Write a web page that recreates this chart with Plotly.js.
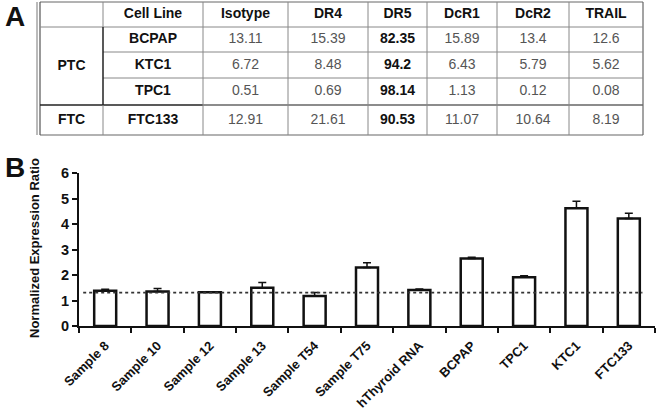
<!DOCTYPE html>
<html>
<head>
<meta charset="utf-8">
<script src="https://cdn.plot.ly/plotly-3.0.1.min.js"></script>
<style>html,body{margin:0;padding:0;background:#fff;}#chart{width:660px;height:412px;}</style>
</head>
<body>
<div id="chart"></div>
<script>
// ---------- Panel A: table data ----------
const tableHeader = ["Cell Line", "Isotype", "DR4", "DR5", "DcR1", "DcR2", "TRAIL"];
const groups = ["PTC", "FTC"];
const groupRows = [[0, 2], [3, 3]];
const cellLines = ["BCPAP", "KTC1", "TPC1", "FTC133"];
const isotype = [13.11, 6.72, 0.51, 12.91];
const dr4 = [15.39, 8.48, 0.69, 21.61];
const dr5 = [82.35, 94.2, 98.14, 90.53];
const dcr1 = [15.89, 6.43, 1.13, 11.07];
const dcr2 = [13.4, 5.79, 0.12, 10.64];
const trail = [12.6, 5.62, 0.08, 8.19];

// ---------- Panel B: bar data ----------
const samples = ["Sample 8", "Sample 10", "Sample 12", "Sample 13", "Sample T54", "Sample T75",
                 "hThyroid RNA", "BCPAP", "TPC1", "KTC1", "FTC133"];
const ratio = [1.38, 1.35, 1.32, 1.50, 1.18, 2.29, 1.41, 2.65, 1.91, 4.62, 4.22];
const ratioErr = [0.06, 0.12, 0.01, 0.21, 0.13, 0.19, 0.04, 0.05, 0.06, 0.27, 0.20];
const baseline = 1.31;

// ---------- table geometry (pixel grid on hidden axes) ----------
const colEdges = [40, 103, 203, 288, 368, 427, 497, 569, 643];
const rowEdges = [2, 27, 52, 78, 105, 135];
const mid = (a, i) => (a[i] + a[i + 1]) / 2;
const FONT = "Arial, 'Liberation Sans', sans-serif";

const traces = [];

// header
traces.push({
  type: "scatter", mode: "text", xaxis: "x2", yaxis: "y2", hoverinfo: "skip", showlegend: false,
  x: tableHeader.map((_, j) => mid(colEdges, j + 1)),
  y: tableHeader.map(() => mid(rowEdges, 0)),
  text: tableHeader,
  textfont: {family: FONT, size: 14, color: "#111", weight: "bold"}
});
// cell line names
traces.push({
  type: "scatter", mode: "text", xaxis: "x2", yaxis: "y2", hoverinfo: "skip", showlegend: false,
  x: cellLines.map(() => mid(colEdges, 1)),
  y: cellLines.map((_, i) => mid(rowEdges, i + 1)),
  text: cellLines,
  textfont: {family: FONT, size: 14, color: "#111", weight: "bold"}
});
// groups
traces.push({
  type: "scatter", mode: "text", xaxis: "x2", yaxis: "y2", hoverinfo: "skip", showlegend: false,
  x: groups.map(() => mid(colEdges, 0)),
  y: groupRows.map(r => (rowEdges[r[0] + 1] + rowEdges[r[1] + 2]) / 2),
  text: groups,
  textfont: {family: FONT, size: 14, color: "#111", weight: "bold"}
});
// numeric columns
const numCols = [isotype, dr4, dr5, dcr1, dcr2, trail];
numCols.forEach((col, k) => {
  const bold = (col === dr5);
  traces.push({
    type: "scatter", mode: "text", xaxis: "x2", yaxis: "y2", hoverinfo: "skip", showlegend: false,
    x: col.map(() => mid(colEdges, k + 2)),
    y: col.map((_, i) => mid(rowEdges, i + 1)),
    text: col.map(v => String(v)),
    textfont: {family: FONT, size: 14, color: bold ? "#111" : "#555", weight: bold ? "bold" : "normal"}
  });
});

// bars
traces.push({
  type: "bar", x: samples, y: ratio, width: 0.42, showlegend: false,
  marker: {color: "#ffffff", line: {color: "#111", width: 2.5}},
  error_y: {type: "data", array: ratioErr, arrayminus: ratio.map(() => 0), symmetric: false,
            color: "#111", thickness: 1.5, width: 4}
});

// table lines
const shapes = [];
const gray = "#888";
const L = (x0, y0, x1, y1, color, width) => shapes.push({
  type: "line", xref: "x2", yref: "y2", x0, y0, x1, y1, line: {color, width}
});
const xL = colEdges[0], xR = colEdges[colEdges.length - 1];
const yT = rowEdges[0], yB = rowEdges[rowEdges.length - 1];
// outer border
L(xL, yT, xR, yT, "#666", 1);
L(xL, yB, xR, yB, "#666", 1.2);
L(xR, yT, xR, yB, "#666", 1.2);
L(xL, yT, xL, yB, "#555", 1.2);
L(xL - 3, yT, xL - 3, yB, "#777", 1);
// horizontal lines
L(xL, rowEdges[1], xR, rowEdges[1], gray, 1);
L(colEdges[1], rowEdges[2], xR, rowEdges[2], gray, 1);
L(colEdges[1], rowEdges[3], xR, rowEdges[3], gray, 1);
L(xL, rowEdges[4], colEdges[2], rowEdges[4], "#222", 1.5);
L(colEdges[2], rowEdges[4], xR, rowEdges[4], "#666", 1.3);
// vertical lines
L(colEdges[1], yT, colEdges[1], rowEdges[1], gray, 1);
L(colEdges[1], rowEdges[1], colEdges[1], rowEdges[4], "#222", 1.5);
L(colEdges[1], rowEdges[4], colEdges[1], yB, gray, 1);
for (let j = 2; j < colEdges.length - 1; j++) L(colEdges[j], yT, colEdges[j], yB, gray, 1);

// dotted reference line on bar chart
shapes.push({type: "line", xref: "x", yref: "y", x0: -0.42, x1: 10.26, y0: baseline, y1: baseline,
             line: {color: "#333", width: 1.6, dash: "dot"}});

const layout = {
  width: 660, height: 412, autosize: false,
  margin: {l: 0, r: 0, t: 0, b: 0},
  paper_bgcolor: "#fff", plot_bgcolor: "rgba(0,0,0,0)",
  font: {family: FONT, color: "#111"},
  bargap: 0.5,
  xaxis: {
    type: "category", domain: [79 / 660, 655 / 660], anchor: "y", range: [-0.5, 10.5],
    showline: true, linecolor: "#111", linewidth: 2, showgrid: false, zeroline: false,
    ticks: "outside", tickson: "boundaries", ticklen: 5, tickwidth: 2, tickcolor: "#111",
    ticklabelstandoff: 5,
    tickangle: -45, tickfont: {family: FONT, size: 13, weight: "bold", color: "#111"}, automargin: false
  },
  yaxis: {
    domain: [(412 - 326) / 412, (412 - 173) / 412], anchor: "x", range: [0, 6], dtick: 1,
    showline: true, linecolor: "#111", linewidth: 2, showgrid: false, zeroline: false,
    ticks: "outside", ticklen: 5, tickwidth: 2, tickcolor: "#111",
    tickfont: {family: FONT, size: 14.5, weight: "bold", color: "#111"}, automargin: false
  },
  xaxis2: {domain: [0, 1], range: [0, 660], visible: false, anchor: "y2", fixedrange: true},
  yaxis2: {domain: [0, 1], range: [412, 0], visible: false, anchor: "x2", fixedrange: true},
  shapes: shapes,
  annotations: [
    {text: "A", xref: "paper", yref: "paper", x: 15 / 660, y: (412 - 17) / 412, showarrow: false,
     font: {family: FONT, size: 28, weight: "bold", color: "#111"}, xanchor: "center", yanchor: "middle"},
    {text: "B", xref: "paper", yref: "paper", x: 15 / 660, y: (412 - 167) / 412, showarrow: false,
     font: {family: FONT, size: 28, weight: "bold", color: "#111"}, xanchor: "center", yanchor: "middle"},
    {text: "Normalized Expression Ratio", xref: "paper", yref: "paper", x: 35 / 660, y: (412 - 248) / 412,
     textangle: -90, showarrow: false, xanchor: "center", yanchor: "middle",
     font: {family: FONT, size: 13, weight: "bold", color: "#111"}}
  ]
};

Plotly.newPlot("chart", traces, layout, {staticPlot: true, displayModeBar: false});
</script>
</body>
</html>
